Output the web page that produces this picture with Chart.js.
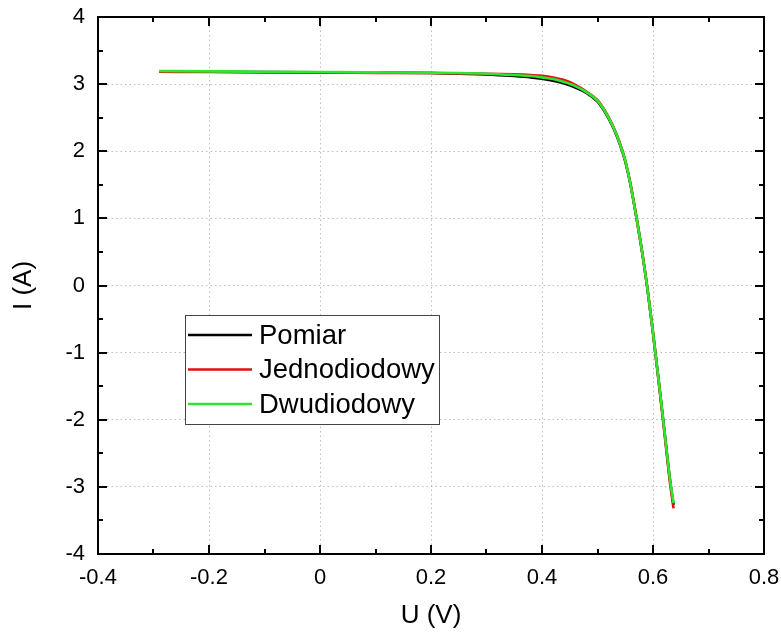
<!DOCTYPE html>
<html>
<head>
<meta charset="utf-8">
<script src="https://cdn.jsdelivr.net/npm/chart.js@4"></script>
<style>
  html, body { margin: 0; padding: 0; background: #fff; }
  #wrap { width: 781px; height: 633px; }
</style>
</head>
<body>
<div id="wrap"><canvas id="ivChart" width="781" height="633"></canvas></div>
<script>
const voltage = [-0.29, -0.2, -0.1, 0, 0.1, 0.2, 0.25, 0.3, 0.35, 0.38, 0.4, 0.42, 0.44, 0.46, 0.48,
    0.5, 0.51, 0.52, 0.53, 0.54, 0.55, 0.56, 0.57, 0.58, 0.59, 0.6, 0.61, 0.62, 0.63, 0.637];

const currentPomiar = [3.19, 3.185, 3.18, 3.175, 3.17, 3.165, 3.155, 3.145, 3.12, 3.1, 3.08, 3.05, 3.01, 2.95, 2.87,
    2.74, 2.63, 2.49, 2.32, 2.11, 1.85, 1.48, 1.02, 0.52, -0.05, -0.7, -1.4, -2.12, -2.85, -3.27];
const currentJedno = [3.185, 3.18, 3.175, 3.17, 3.168, 3.165, 3.16, 3.155, 3.145, 3.135, 3.125, 3.1, 3.06, 2.99, 2.89,
    2.76, 2.65, 2.51, 2.34, 2.13, 1.86, 1.49, 1.02, 0.52, -0.05, -0.71, -1.42, -2.15, -2.9, -3.32];
const currentDwu = [3.195, 3.19, 3.185, 3.18, 3.175, 3.17, 3.165, 3.155, 3.135, 3.12, 3.1, 3.075, 3.03, 2.97, 2.88,
    2.75, 2.64, 2.5, 2.33, 2.12, 1.86, 1.48, 1.02, 0.52, -0.05, -0.7, -1.4, -2.12, -2.85, -3.24];

const xTicks = [-0.4, -0.2, 0, 0.2, 0.4, 0.6, 0.8];
const yTicks = [-4, -3, -2, -1, 0, 1, 2, 3, 4];

const FONT = "'Liberation Sans', Arial, sans-serif";

const toPoints = (ys) => voltage.map((x, i) => ({ x, y: ys[i] }));

// frame + inward major/minor ticks on all four sides
const frameTicks = {
    id: 'frameTicks',
    afterDatasetsDraw(chart) {
        const { ctx, chartArea: a, scales: { x, y } } = chart;
        ctx.save();
        ctx.strokeStyle = '#000';
        ctx.lineWidth = 2;
        ctx.strokeRect(a.left, a.top, a.right - a.left, a.bottom - a.top);
        ctx.beginPath();
        for (let v = -0.4; v <= 0.8001; v += 0.1) {
            const px = Math.round(x.getPixelForValue(v));
            const major = Math.abs(Math.round(v * 10)) % 2 === 0;
            const len = major ? 9 : 5;
            ctx.moveTo(px, a.bottom); ctx.lineTo(px, a.bottom - len);
            ctx.moveTo(px, a.top); ctx.lineTo(px, a.top + len);
        }
        for (let v = -4; v <= 4.001; v += 0.5) {
            const py = Math.round(y.getPixelForValue(v));
            const major = Number.isInteger(v);
            const len = major ? 9 : 5;
            ctx.moveTo(a.left, py); ctx.lineTo(a.left + len, py);
            ctx.moveTo(a.right, py); ctx.lineTo(a.right - len, py);
        }
        ctx.stroke();
        ctx.restore();
    },
};

const boxLegend = {
    id: 'boxLegend',
    afterDraw(chart) {
        const { ctx } = chart;
        const box = { left: 185, top: 315, width: 254, height: 109 };
        ctx.save();
        ctx.fillStyle = '#fff';
        ctx.fillRect(box.left, box.top, box.width, box.height);
        ctx.strokeStyle = '#444';
        ctx.lineWidth = 1;
        ctx.strokeRect(box.left + 0.5, box.top + 0.5, box.width, box.height);
        ctx.font = `27.5px ${FONT}`;
        ctx.textBaseline = 'middle';
        ctx.fillStyle = '#000';
        chart.data.datasets.forEach((ds, i) => {
            const rowY = box.top + 20 + i * 34.5;
            ctx.strokeStyle = ds.borderColor;
            ctx.lineWidth = 2.6;
            ctx.beginPath();
            ctx.moveTo(box.left + 3, rowY);
            ctx.lineTo(box.left + 67, rowY);
            ctx.stroke();
            ctx.fillText(ds.label, box.left + 74, rowY + 1);
        });
        ctx.restore();
    },
};

new Chart(document.getElementById('ivChart'), {
    type: 'scatter',
    data: {
        datasets: [
            { label: 'Pomiar', data: toPoints(currentPomiar), borderColor: '#000000', order: 3 },
            { label: 'Jednodiodowy', data: toPoints(currentJedno), borderColor: '#e01010', order: 2 },
            { label: 'Dwudiodowy', data: toPoints(currentDwu), borderColor: '#2ee62e', order: 1 },
        ],
    },
    options: {
        responsive: false,
        animation: false,
        showLine: true,
        elements: {
            point: { radius: 0 },
            line: { borderWidth: 2.6, cubicInterpolationMode: 'monotone', fill: false },
        },
        layout: { padding: { top: 17, right: 17, left: 0, bottom: 0 } },
        plugins: { legend: { display: false }, tooltip: { enabled: false } },
        scales: {
            x: {
                type: 'linear',
                min: -0.4,
                max: 0.8,
                afterBuildTicks: (s) => { s.ticks = xTicks.map((v) => ({ value: v })); },
                afterFit: (s) => {
                    s.height = 79;
                    s.paddingLeft = 0;
                    s.paddingRight = 0;
                },
                ticks: {
                    font: { family: FONT, size: 22 },
                    color: '#000',
                    padding: 11,
                    maxRotation: 0,
                    callback: (v) => String(Math.round(v * 10) / 10),
                },
                grid: { color: '#bdbdbd', lineWidth: 1, drawTicks: false },
                border: { display: false, dash: [1.5, 3] },
                title: {
                    display: true,
                    text: 'U (V)',
                    font: { family: FONT, size: 26 },
                    color: '#000',
                    padding: { top: 0, bottom: 2 },
                },
            },
            y: {
                type: 'linear',
                min: -4,
                max: 4,
                afterBuildTicks: (s) => { s.ticks = yTicks.map((v) => ({ value: v })); },
                afterFit: (s) => {
                    s.width = 98;
                    s.paddingTop = 0;
                    s.paddingBottom = 0;
                },
                ticks: {
                    font: { family: FONT, size: 22 },
                    color: '#000',
                    padding: 13,
                    callback: (v) => String(v),
                },
                grid: { color: '#bdbdbd', lineWidth: 1, drawTicks: false },
                border: { display: false, dash: [1.5, 3] },
                title: {
                    display: true,
                    text: 'I (A)',
                    font: { family: FONT, size: 26 },
                    color: '#000',
                    padding: { top: 8, bottom: 0 },
                },
            },
        },
    },
    plugins: [frameTicks, boxLegend],
});
</script>
</body>
</html>
